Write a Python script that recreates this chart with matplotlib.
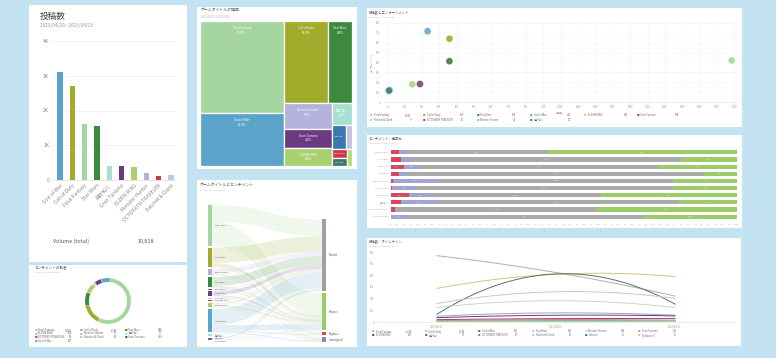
import numpy as np
import matplotlib.pyplot as plt
from matplotlib.patches import Rectangle, PathPatch
from matplotlib.path import Path

plt.rcParams['font.family'] = ['Noto Sans CJK JP', 'DejaVu Sans']

W, H = 776, 358
BG = '#c3e3f3'
GRAY = '#777777'

colors = {'God of War': '#5ba3c9', 'Call of Duty': '#a3ab2c', 'Final Fantasy': '#a6d6a0',
          'Star Wars': '#3b8a3e', '龍が如く': '#a9dfd1', 'Gran Turismo': '#6b3a80',
          'ELDEN RING': '#a8d06e', 'Monster Hunter': '#b2b2da', 'OCTOPATH TRAVELER': '#d2364c',
          'Ratchet & Clank': '#c3c3e2', 'Horizon': '#3a78b0', 'Persona 5': '#3a7a68',
          'Splatoon 3': '#b8d87c'}

# --- data -------------------------------------------------------------
period = '2023/04/20 - 2023/04/23'

games = ['God of War', 'Call of Duty', 'Final Fantasy', 'Star Wars', '龍が如く', 'Gran Turismo',
         'ELDEN RING', 'Monster Hunter', 'OCTOPATH TRAVELER', 'Ratchet & Clank']
posts = [3105, 2705, 1605, 1560, 415, 410, 370, 190, 128, 130]

tm_names = ['Final Fantasy', 'God of War', 'Call of Duty', 'Star Wars', 'Monster Hunter',
            'Gran Turismo', 'ELDEN RING', '龍が如く', 'Horizon', 'Ratchet & Clank',
            'OCTOPATH TRAVELER', 'Persona 5', 'Splatoon 3']
tm_values = [33.8, 19.3, 16.2, 8.5, 5.4, 4.1, 3.9, 1.9, 1.4, 0.6, 0.6, 0.5, 0.4]
tm_tree = ('h', [('v', [0, 1]),
                 ('v', [('h', [2, 3]),
                        ('h', [('v', [4, 5, 6]),
                               ('v', [7, ('h', [8, 9]), ('h', [('v', [10, 11]), 12])])])])])

sc_names = ['Final Fantasy', 'Call of Duty', 'Star Wars', 'God of War', 'ELDEN RING',
            'Gran Turismo', 'Ratchet & Clank', 'OCTOPATH TRAVELER', 'Monster Hunter', '龍が如く']
sc_x = [1985, 358, 358, 232, 144, 188, 9, 10, 14, 10]
sc_y = [420, 641, 413, 717, 179, 182, 112, 114, 122, 116]
sc_colors = ['#a6d6a0', '#a3ab2c', '#3f7a48', '#6aa8c8', '#b0d47e', '#6b4a70',
             '#c3c3e2', '#d2364c', '#8cc0dc', '#3e7f82']

sent_games = ['Final Fantasy', 'Call of Duty', 'God of War', 'Star Wars', 'Monster Hunter',
              'Gran Turismo', 'ELDEN RING', '龍が如く', 'OCTOPATH TRAVELER', 'Ratchet & Clank']
sent_neg = [2.2, 2.9, 3.7, 2.2, 0.5, 0.3, 5.1, 2.9, 1.1, 0.0]
sent_una = [2.4, 2.5, 4.8, 2.4, 13.3, 6.7, 6.3, 10.4, 0.7, 4.1]
sent_neu = [40.9, 78.8, 68.6, 85.9, 67.8, 74.5, 49.2, 69.7, 57.8, 68.8]
sent_pos = [54.5, 15.8, 22.9, 9.5, 18.4, 18.5, 39.4, 17.0, 40.4, 27.1]
sent_colors = ['#d9475a', '#a3a3d3', '#aaaaaa', '#9ccb6a']

sankey_order = ['Final Fantasy', 'Call of Duty', 'Monster Hunter', 'Star Wars', 'Persona 5',
                'Gran Turismo', 'Ratchet & Clank', 'OCTOPATH TRAVELER', 'ELDEN RING',
                'God of War', '龍が如く', 'Horizon', 'Splatoon 3']
sankey_targets = ['Neutral', 'Positive', 'Negative', 'Unassigned']
sankey_tcolors = ['#a0a0a0', '#9ccb6a', '#d9475a', '#8c8cb0']

days = ['2023/04/21', '2023/04/22', '2023/04/23']
line_names = ['Final Fantasy', 'Call of Duty', 'God of War', 'Star Wars', 'Monster Hunter',
              'Gran Turismo', 'ELDEN RING', '龍が如く', 'OCTOPATH TRAVELER', 'Ratchet & Clank',
              'Horizon', 'Splatoon 3']
line_vals = [[568, 424, 222], [288, 409, 389], [66, 412, 153], [158, 259, 202],
             [124, 182, 124], [49, 78, 58], [37, 58, 52], [20, 29, 29],
             [12, 20, 15], [8, 10, 12], [5, 8, 6], [3, 5, 4]]
line_colors = ['#a2b8a0', '#cdc97a', '#5f6f66', '#d2c0cf', '#c4dec0', '#a0a0c8',
               '#6b3a80', '#8a4a6a', '#d86a7a', '#c3c3e2', '#3a78b0', '#b8d87c']

donut_names = ['Final Fantasy', 'Call of Duty', 'Star Wars', 'ELDEN RING', 'Monster Hunter',
               '龍が如く', 'OCTOPATH TRAVELER', 'Ratchet & Clank', 'Gran Turismo', 'God of War']
donut_vals = [5402, 1385, 948, 655, 76, 57, 38, 28, 474, 607]


# --- helpers ----------------------------------------------------------
fig = plt.figure(figsize=(W / 100, H / 100), dpi=100)
fig.patch.set_facecolor(BG)


def panel(x0, y0, x1, y1):
    fig.add_artist(Rectangle((x0 / W, 1 - y1 / H), (x1 - x0) / W, (y1 - y0) / H,
                             transform=fig.transFigure, fc='white', ec='none', zorder=-1))


def axes_px(x0, y0, x1, y1):
    ax = fig.add_axes([x0 / W, 1 - y1 / H, (x1 - x0) / W, (y1 - y0) / H])
    ax.patch.set_alpha(0)
    return ax


def txt(x, y, s, size, color=GRAY, **kw):
    kw.setdefault('va', 'center')
    fig.text(x / W, 1 - y / H, s, fontsize=size, color=color, **kw)


def clean(ax):
    for s in ax.spines.values():
        s.set_visible(False)


def legend(names, values, cols, xs, vxs, ys, size):
    for i, n in enumerate(names):
        r, c = divmod(i, len(xs))
        txt(xs[c], ys[r], '■', size, color=cols[i])
        txt(xs[c] + 3.5, ys[r], n, size, color='#666666')
        txt(vxs[c], ys[r], values[i], size, color='#666666', ha='right')


for p in [(29, 5, 187, 262), (197, 7, 357, 169), (367, 8, 742, 127), (367, 135, 742, 228),
          (197, 180, 357, 347), (367, 238, 741, 346), (29, 265, 187, 347)]:
    panel(*p)

# --- 1: bar chart -----------------------------------------------------
txt(40, 16, '投稿数', 6.2, color='#444444')
txt(40, 25, period, 3.4, color='#999999')
ax = axes_px(52, 41, 176, 180)
xs = np.arange(len(games))
ax.bar(xs, posts, width=0.42, color=[colors[g] for g in games], zorder=2)
ax.set_xlim(-0.65, 9.4)
ax.set_ylim(0, 4000)
ax.set_yticks([0, 1000, 2000, 3000, 4000], ['0', '1K', '2K', '3K', '4K'])
ax.set_xticks(xs, games, rotation=45, ha='right', rotation_mode='anchor')
ax.grid(axis='y', color='#eeeeee', lw=0.5)
clean(ax)
ax.spines['bottom'].set_visible(True)
ax.spines['bottom'].set_color('#dddddd')
ax.spines['bottom'].set_linewidth(0.5)
ax.tick_params(length=0, labelsize=3.6, colors='#888888', pad=2)
txt(53, 241, 'Volume (total)', 3.9, color='#555555')
txt(138, 241, f'{sum(posts):,}', 3.9, color='#555555')

# --- 2: treemap -------------------------------------------------------
txt(201, 11, 'ゲームタイトルの構成', 2.8, color='#555555')
txt(201, 16, period, 1.8, color='#aaaaaa')


def weight(node):
    if isinstance(node, int):
        return tm_values[node]
    return sum(weight(k) for k in node[1])


def layout(node, x, y, w, h, out):
    if isinstance(node, int):
        out[node] = (x, y, w, h)
        return
    d, kids = node
    tot = weight(node)
    for k in kids:
        f = weight(k) / tot
        if d == 'h':
            layout(k, x, y, w * f, h, out)
            x += w * f
        else:
            layout(k, x, y, w, h * f, out)
            y += h * f


rects = {}
layout(tm_tree, 0, 0, 1, 1, rects)
ax = axes_px(200, 21, 352, 166)
ax.set_xlim(0, 1)
ax.set_ylim(1, 0)
ax.axis('off')
total_tm = sum(tm_values)
for i, (x, y, w, h) in rects.items():
    ax.add_patch(Rectangle((x, y), w, h, fc=colors[tm_names[i]], ec='white', lw=0.9))
    if w > 0.1:
        ax.text(x + w / 2, y + 0.035, f'{tm_names[i]}\n{tm_values[i] / total_tm * 100:.1f}%',
                ha='center', va='top', fontsize=2.2, color='white', linespacing=1.2)
    elif w > 0.05:
        ax.text(x + w / 2, y + h / 2, tm_names[i][:8], ha='center', va='center',
                fontsize=1.6, color='white')

# --- 3: scatter -------------------------------------------------------
txt(369, 13, '投稿数とエンゲージメント', 2.4, color='#555555')
txt(369, 17, period, 1.6, color='#aaaaaa')
ax = axes_px(383, 22, 736, 102)
ax.scatter(sc_x, sc_y, s=26, c=sc_colors, alpha=0.9, lw=0.3, edgecolors='white', zorder=3)
ax.set_xlim(-25, 2010)
ax.set_ylim(0, 810)
ax.set_xticks(range(0, 2001, 100))
ax.set_yticks(range(0, 801, 100))
ax.grid(color='#f3f3f3', lw=0.4)
clean(ax)
ax.spines['bottom'].set_visible(True)
ax.spines['bottom'].set_color('#dddddd')
ax.spines['bottom'].set_linewidth(0.4)
ax.tick_params(length=0, labelsize=1.8, colors='#999999', pad=2)
ax.set_xlabel('投稿数', fontsize=1.8, color='#999999', labelpad=1)
ax.set_ylabel('エンゲージメント', fontsize=1.8, color='#999999', labelpad=2)
legend(sc_names, [f'{v:,}' for v in sc_x], sc_colors,
       [370, 423, 477, 530, 584, 637], [411, 464, 516, 571, 628, 679], [115, 119.5], 1.8)

# --- 4: stacked sentiment bars -----------------------------------------
txt(369, 139, 'センチメント：構成比', 2.4, color='#555555')
txt(369, 143, period, 1.6, color='#aaaaaa')
ax = axes_px(391, 148, 737, 221)
ys = np.arange(len(sent_games))
left = np.zeros(len(sent_games))
for vals, c in zip([sent_neg, sent_una, sent_neu, sent_pos], sent_colors):
    vals = np.array(vals)
    ax.barh(ys, vals, left=left, height=0.58, color=c, zorder=2)
    for yy, l, v in zip(ys, left, vals):
        if v > 3:
            ax.text(l + v / 2, yy, f'{v:.1f}%', fontsize=1.3, color='white',
                    ha='center', va='center', zorder=3)
    left += vals
ax.set_xlim(0, 100)
ax.set_ylim(9.6, -0.6)
ax.set_yticks(ys, sent_games)
ax.set_xticks(range(0, 101, 2), [f'{v}%' for v in range(0, 101, 2)])
clean(ax)
ax.tick_params(length=0, labelsize=1.5, colors='#999999', pad=2)

# --- 5: sankey --------------------------------------------------------
txt(200, 186, 'ゲームタイトルとセンチメント', 2.8, color='#555555')
txt(200, 190.5, period, 1.6, color='#aaaaaa')
mean_frac = np.array([np.mean(sent_neu), np.mean(sent_pos), np.mean(sent_neg), np.mean(sent_una)])
flows = []
for g in sankey_order:
    v = tm_values[tm_names.index(g)]
    if g in sent_games:
        k = sent_games.index(g)
        frac = np.array([sent_neu[k], sent_pos[k], sent_neg[k], sent_una[k]])
    else:
        frac = mean_frac
    flows.append(v * frac / frac.sum())
flows = np.array(flows)
gap_l, gap_r = 1.4, 1.6
src_tot = flows.sum(axis=1)
dst_tot = flows.sum(axis=0)
total = src_tot.sum() + gap_l * (len(src_tot) - 1)
src_top = np.concatenate([[0], np.cumsum(src_tot + gap_l)[:-1]])
dst_top = total - (dst_tot.sum() + gap_r * 3) + np.concatenate([[0], np.cumsum(dst_tot + gap_r)[:-1]])

ax = axes_px(208, 205, 326, 342)
ax.set_xlim(0, 1)
ax.set_ylim(total, 0)
ax.axis('off')
nw = 0.037
x0, x1 = nw, 1 - nw
src_off = src_top.copy()
dst_off = dst_top.copy()
for i, g in enumerate(sankey_order):
    for j in range(4):
        f = flows[i, j]
        a0, b0 = src_off[i], src_off[i] + f
        a1, b1 = dst_off[j], dst_off[j] + f
        xm = (x0 + x1) / 2
        verts = [(x0, a0), (xm, a0), (xm, a1), (x1, a1), (x1, b1), (xm, b1), (xm, b0), (x0, b0), (x0, a0)]
        codes = [Path.MOVETO, Path.CURVE4, Path.CURVE4, Path.CURVE4, Path.LINETO,
                 Path.CURVE4, Path.CURVE4, Path.CURVE4, Path.CLOSEPOLY]
        ax.add_patch(PathPatch(Path(verts, codes), fc=colors[g], ec='none', alpha=0.17))
        src_off[i] += f
        dst_off[j] += f
ax.barh(src_top + src_tot / 2, nw, height=src_tot, left=0,
        color=[colors[g] for g in sankey_order])
ax.barh(dst_top + dst_tot / 2, nw, height=dst_tot, left=1 - nw, color=sankey_tcolors)
prev = -10
for t, h, g in zip(src_top, src_tot, sankey_order):
    ly = max(t + h / 2, prev + 2.2)
    prev = ly
    ax.text(nw + 0.02, ly, g if len(g) < 12 else g[:10] + '...', fontsize=1.6,
            color='#555555', va='center')
for t, h, g in zip(dst_top, dst_tot, sankey_targets):
    ax.text(1.02, t + h / 2, g, fontsize=1.9, color='#555555', va='center', clip_on=False)

# --- 6: timeline ------------------------------------------------------
txt(369, 242, '投稿数：タイムライン', 2.4, color='#555555')
txt(369, 246, period, 1.6, color='#aaaaaa')
ax = axes_px(377, 252, 735, 322)
dx = np.arange(len(days))
xx = np.linspace(0, 2, 80)
for vals, c in zip(line_vals, line_colors):
    coef = np.polyfit(dx, vals, 2)
    ax.plot(xx, np.polyval(coef, xx), color=c, lw=0.7)
ax.set_xlim(-0.504, 2.504)
ax.set_ylim(0, 600)
ax.set_yticks(range(0, 601, 100))
ax.set_xticks(dx, days)
clean(ax)
ax.spines['bottom'].set_visible(True)
ax.spines['bottom'].set_color('#dddddd')
ax.spines['bottom'].set_linewidth(0.4)
ax.tick_params(length=0, labelsize=1.8, colors='#999999', pad=2)
legend(line_names, [f'{sum(v):,}' for v in line_vals], line_colors,
       [372, 425, 478, 532, 585, 638], [412, 465, 518, 572, 625, 677], [331.5, 335.5], 1.8)

# --- 7: donut ---------------------------------------------------------
txt(35, 268, 'センチメントの割合', 2.6, color='#555555')
txt(35, 272, period, 1.6, color='#aaaaaa')
ax = axes_px(84, 277, 132, 325)
ax.pie(donut_vals, colors=[colors[g] for g in donut_names], startangle=85, counterclock=False,
       wedgeprops=dict(width=0.18, ec='white', lw=0.2))
ax.set_xlim(-1.04, 1.04)
ax.set_ylim(-1.04, 1.04)
legend(donut_names, [f'{v:,}' for v in donut_vals], [colors[g] for g in donut_names],
       [35, 80, 125], [72, 117, 162], [330, 333.5, 337, 340.5], 1.9)

fig.savefig('out.png', dpi=100, facecolor=BG)
